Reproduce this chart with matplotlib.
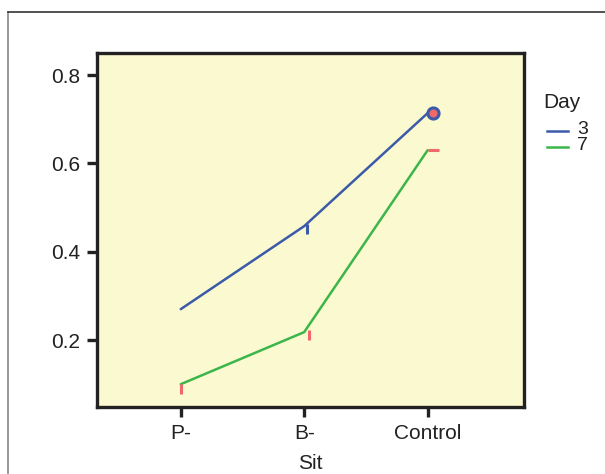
import matplotlib.pyplot as plt
from matplotlib.lines import Line2D

# data
sites = ["P-", "B-", "Control"]
day3 = [0.27, 0.458, 0.714]
day7 = [0.10, 0.218, 0.63]
days = ["3", "7"]

plt.rcParams['font.family'] = ['Liberation Sans', 'DejaVu Sans']

blue = "#3b5ba9"
green = "#3cb54a"
red = "#f0686a"
ink = "#222222"

fig = plt.figure(figsize=(6.05, 4.74), dpi=100)
ax = fig.add_axes([0.160, 0.141, 0.706, 0.747])
ax.set_facecolor("#fbf9d0")

x = list(range(len(sites)))
ax.plot(x, day3, color=blue, lw=1.8, solid_capstyle="round")
ax.plot(x, day7, color=green, lw=1.8, solid_capstyle="round")

# small markers at the points
down = [(0, 0), (0, -1)]
right = [(0, 0), (1, 0)]
ax.plot(x[0], day7[0], marker=down, ms=14, mew=2.2, color=red, ls="none")
ax.plot(x[1] + 0.04, day7[1] + 0.005, marker=down, ms=14, mew=2.2, color=red, ls="none")
ax.plot(x[1] + 0.02, day3[1] + 0.005, marker=down, ms=14, mew=2.2, color=blue, ls="none")
ax.plot(x[2], day7[2], marker=right, ms=16, mew=2.2, color=red, ls="none")
ax.plot(x[2] + 0.04, day3[2], marker="o", ms=8, mfc=red, mec=blue, mew=2.2, ls="none")

ax.set_xlim(-0.68, 2.78)
ax.set_ylim(0.048, 0.85)
ax.set_xticks(x)
ax.set_xticklabels(sites)
ax.set_yticks([0.2, 0.4, 0.6, 0.8])
ax.set_yticklabels(["0.2", "0.4", "0.6", "0.8"])
ax.tick_params(axis="both", labelsize=15, length=7, width=2.4, color=ink,
               labelcolor=ink, pad=5)
for s in ax.spines.values():
    s.set_linewidth(2.4)
    s.set_color(ink)
ax.set_xlabel("Sit", fontsize=15, color=ink, labelpad=8)

# legend, drawn by hand so the entries can sit tight like the original
W, H = 605, 474
fig.text(543 / W, 1 - 102 / H, "Day", fontsize=15, color=ink, va="center", ha="left")
for lab, col, yy in zip(days, [blue, green], [131, 147]):
    fig.add_artist(Line2D([547 / W, 568 / W], [1 - yy / H, 1 - yy / H],
                          transform=fig.transFigure, color=col, lw=1.8))
    fig.text(577 / W, 1 - (yy - 1) / H, lab, fontsize=14, color=ink,
             va="center", ha="left")

# figure frame (left and top only)
fig.add_artist(Line2D([8 / W, 8 / W], [0, 1 - 12 / H], transform=fig.transFigure,
                      color="#888888", lw=1.2))
fig.add_artist(Line2D([8 / W, 1], [1 - 12 / H, 1 - 12 / H], transform=fig.transFigure,
                      color="#333333", lw=1.2))

fig.savefig("out.png", dpi=100)
